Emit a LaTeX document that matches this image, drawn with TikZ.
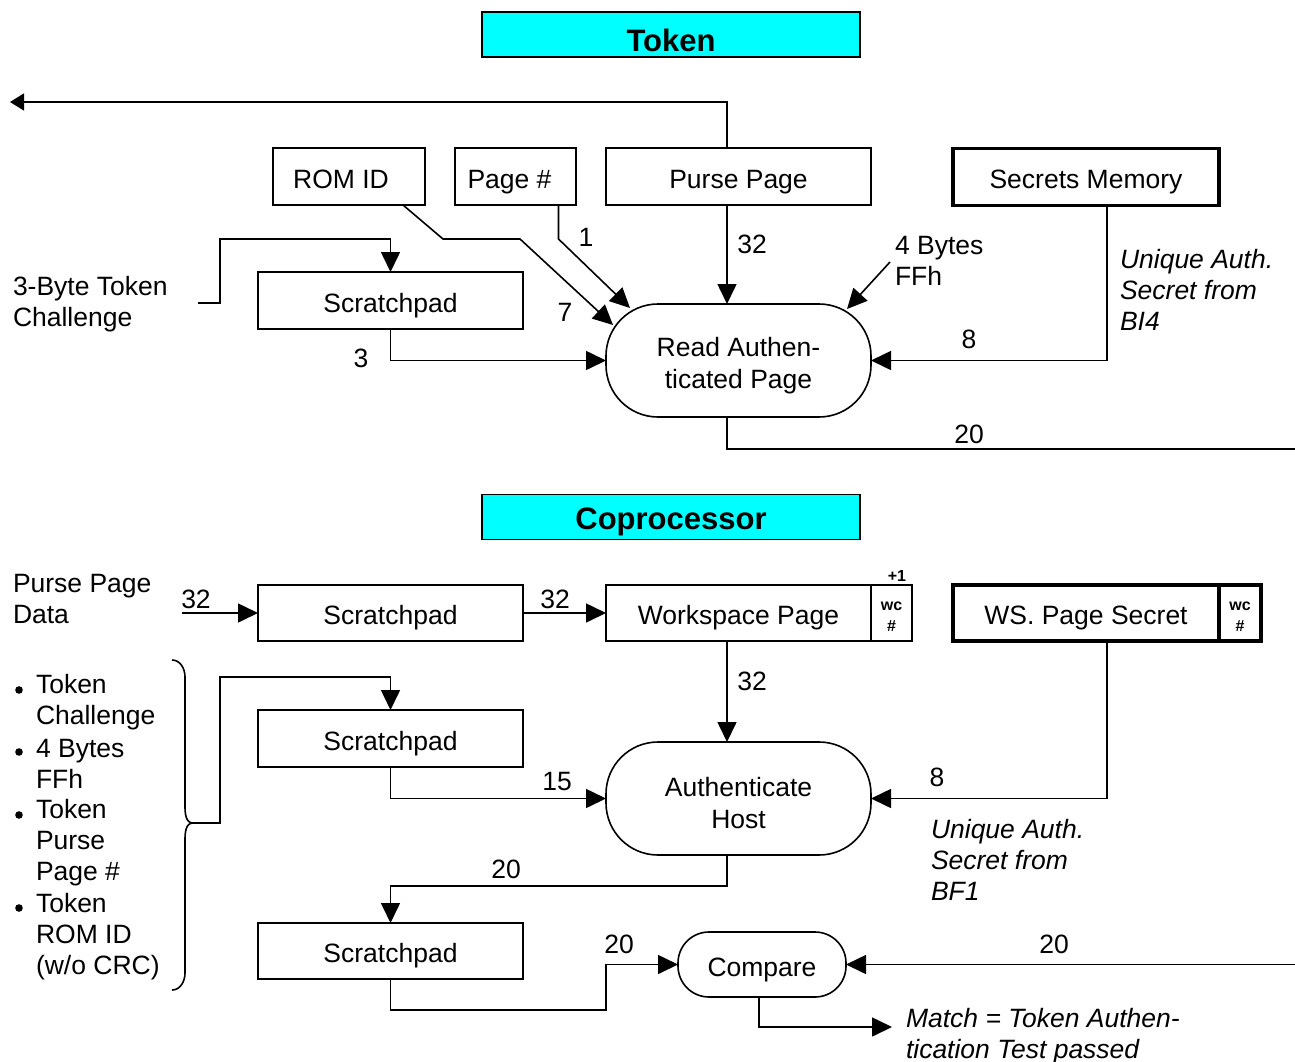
\documentclass[tikz,border=0pt]{standalone}
\usepackage{fontspec}
\setmainfont{Liberation Sans}
\usetikzlibrary{arrows.meta}
\definecolor{titlecyan}{RGB}{0,255,255}
\newcommand\nfont{\fontsize{26.5}{32}\selectfont}
\newcommand\firstline{\rule{0pt}{29pt}}
\begin{document}
\begin{tikzpicture}[x=1pt,y=-1pt,
  every node/.style={inner sep=0pt, outer sep=0pt},
  lbl/.style={font=\nfont},
  box/.style={draw, line width=1.6pt, minimum height=57pt, font=\nfont, text height=23.5pt, text depth=0pt},
  thickbox/.style={box, line width=3.2pt},
  roundbox/.style={draw, line width=1.6pt, font=\nfont, align=center, rounded corners=52pt},
  titlebox/.style={draw, line width=1.2pt, fill=titlecyan, minimum width=378pt, minimum height=45pt},
  titletext/.style={font=\fontsize{31}{36}\selectfont\bfseries},
  line/.style={line width=1.6pt},
  arr/.style={line, -{Triangle[length=20pt,width=19pt]}},
  sarr/.style={line, -{Triangle[length=14pt,width=17pt]}},
  note/.style={font=\fontsize{26.5}{31}\selectfont\itshape, align=left},
  multi/.style={font=\fontsize{26.5}{31}\selectfont, align=left},
  small/.style={font=\fontsize{16}{21}\selectfont\bfseries, align=center},
  wcbox/.style={draw, minimum height=56pt, small}
]
\useasboundingbox (0,0) rectangle (1295,1062);

% ---------------- Token section ----------------
\node[titlebox] (tokbox) at (671,34.5) {};
\node[titletext] (toktxt) at (671,40) {Token};

\node[box, minimum width=152pt] (rom) at (349,176.5) {ROM ID\kern16pt};
\node[box, minimum width=121pt] (pg) at (515.5,176.5) {Page \#\kern12pt};
\node[box, minimum width=265pt] (purse) at (738.5,176.5) {Purse Page};
\node[thickbox, minimum width=266pt] (sec) at (1086,177) {Secrets Memory};
\node[box, minimum width=265pt] (s1) at (390.5,300.5) {Scratchpad};
\node[roundbox, minimum width=265pt, minimum height=113pt] (rap) at (738.5,360.5) {\firstline Read Authen-\\ticated Page};

\node[multi, anchor=west] (chal) at (13,304.5) {3-Byte Token\\Challenge};
\node[multi, anchor=west] (ff1) at (895,260.5) {4 Bytes\\FFh};
\node[note, anchor=west] (uq1) at (1120,290) {Unique Auth.\\Secret from\\BI4};

\coordinate (outL) at (10,102);
\coordinate (outR1) at (1295,449);
\coordinate (romk1) at (443,239);
\coordinate (romk2) at (520,239);
\coordinate (romt) at (613,325);
\coordinate (pgk) at (558.5,239);
\coordinate (pgt) at (630,308);
\coordinate (ffs) at (890,262);
\coordinate (fft) at (847,309);
\coordinate (chs) at (198,303);

\draw[sarr] ([xshift=-11.5pt]purse.north) |- (outL);
\draw[arr] ([xshift=54pt]rom.south) -- (romk1) -- (romk2) -- (romt);
\draw[arr] ([xshift=43pt]pg.south) -- (pgk) -- (pgt);
\draw[arr] ([xshift=-11.5pt]purse.south) -- ([xshift=-11.5pt]rap.north);
\draw[arr] (ffs) -- (fft);
\draw[arr] ([xshift=21pt]sec.south) |- (rap.east);
\draw[arr] (chs) -- (220,303) -- (220,239) -| (s1.north);
\draw[arr] (s1.south) |- (rap.west);
\draw[line] ([xshift=-11.5pt]rap.south) |- (outR1);

\node[lbl] (l7) at (565,312) {7};
\node[lbl] (l1) at (586,237) {1};
\node[lbl] (l32a) at (752,244) {32};
\node[lbl] (l8a) at (969,339) {8};
\node[lbl] (l3) at (361,358) {3};
\node[lbl] (l20a) at (969,434) {20};

% ---------------- Coprocessor section ----------------
\node[titlebox] (copbox) at (671,517) {};
\node[titletext] (coptxt) at (671,522) {Coprocessor};

\node[multi, anchor=west] (ppd) at (13,599.5) {Purse Page\\Data};
\node[box, minimum width=265pt, minimum height=56pt] (s2) at (390.5,613) {Scratchpad};
\node[box, minimum width=265pt, minimum height=56pt] (wp) at (738.5,613) {Workspace Page};
\node[wcbox, line width=1.6pt, minimum width=41pt] (wc1) at (891.5,613) {\rule{0pt}{16pt}wc\\\#};
\node[small] (plus1) at (897,576) {+1};
\node[thickbox, minimum width=266pt, minimum height=56pt] (wss) at (1086,613) {WS. Page Secret};
\node[wcbox, line width=3.2pt, minimum width=42pt] (wc2) at (1240,613) {\rule{0pt}{16pt}wc\\\#};

\node[box, minimum width=265pt] (s3) at (390.5,738.5) {Scratchpad};
\node[roundbox, minimum width=265pt, minimum height=113pt] (ah) at (738.5,798.5) {\firstline Authenticate\\Host};
\node[box, minimum width=265pt, minimum height=56pt] (s4) at (390.5,951) {Scratchpad};
\node[roundbox, rounded corners=31pt, minimum width=168pt, minimum height=65pt] (cmp) at (762,964.5) {\firstline Compare};

\node[note, anchor=west] (uq2) at (931,860) {Unique Auth.\\Secret from\\BF1};
\node[note, anchor=west] (match) at (906,1036) {Match = Token Authen-\\tication Test passed};

% bullet list and brace
\node[multi, anchor=west] (b1) at (36,702) {Token\\Challenge};
\node[multi, anchor=west] (b2) at (36,764) {4 Bytes\\FFh};
\node[multi, anchor=west] (b3) at (36,843) {Token\\Purse\\Page \#};
\node[multi, anchor=west] (b4) at (36,937) {Token\\ROM ID\\(w/o CRC)};
\fill (19,690) circle (3.8pt);
\fill (19,752) circle (3.8pt);
\fill (19,815) circle (3.8pt);
\fill (19,908) circle (3.8pt);
\coordinate (brtip) at (193,823);
\draw[line] (172,660) to[out=0,in=90] (185,677) -- (185,806)
  to[out=-90,in=180] (brtip) to[out=180,in=90] (185,840) -- (185,973)
  to[out=-90,in=0] (172,990);

\coordinate (pin) at (182,613);
\coordinate (inR) at (1295,964.5);
\coordinate (mt) at (892,1027);

\draw[arr] (pin) -- (s2.west);
\draw[arr] (s2.east) -- (wp.west);
\draw[arr] ([xshift=-11.5pt]wp.south) -- ([xshift=-11.5pt]ah.north);
\draw[arr] ([xshift=21pt]wss.south) |- (ah.east);
\draw[arr] (brtip) -- (220,823) -- (220,677) -| (s3.north);
\draw[arr] (s3.south) |- (ah.west);
\draw[arr] ([xshift=-11.5pt]ah.south) -- (727,886) -| (s4.north);
\draw[arr] (s4.south) -- (390.5,1010) -- (606,1010) |- (cmp.west);
\draw[arr] (inR) -- (cmp.east);
\draw[arr] ([xshift=-3pt]cmp.south) |- (mt);

\node[lbl] (c32a) at (196,599) {32};
\node[lbl] (c32b) at (555,599) {32};
\node[lbl] (c32c) at (752,681) {32};
\node[lbl] (c8) at (937,777) {8};
\node[lbl] (c15) at (557,782) {15};
\node[lbl] (c20a) at (506,869) {20};
\node[lbl] (c20b) at (619,944) {20};
\node[lbl] (c20c) at (1054,944) {20};
\end{tikzpicture}
\end{document}
